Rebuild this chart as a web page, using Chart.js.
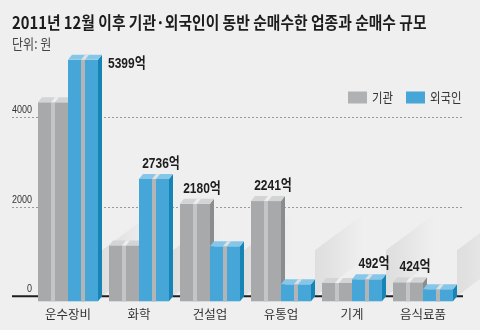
<!DOCTYPE html>
<html><head><meta charset="utf-8">
<script src="https://cdn.jsdelivr.net/npm/chart.js@4/dist/chart.umd.min.js"></script>
<style>
html,body{margin:0;padding:0;background:#efefef;width:480px;height:330px;overflow:hidden}
#wrap{position:relative;width:480px;height:330px}
canvas{position:absolute;left:0;top:0}
#title{position:absolute;left:12px;top:13px;font-family:'Noto Sans CJK KR';font-weight:bold;font-size:17px;line-height:17px;color:#1d1d1d;white-space:nowrap;transform:scaleX(0.87);transform-origin:0 0;z-index:2}
#unit{position:absolute;left:12px;top:36px;font-family:'Noto Sans CJK KR';font-size:14px;line-height:14px;color:#444;white-space:nowrap;transform:scaleX(0.86);transform-origin:0 0;z-index:2}
</style></head>
<body><div id="wrap">
<div id="title">2011년 12월 이후 기관·외국인이 동반 순매수한 업종과 순매수 규모</div>
<div id="unit">단위: 원</div>
<canvas id="c" width="480" height="330"></canvas>
</div>
<script>
const categories = ['운수장비', '화학', '건설업', '유통업', '기계', '음식료품'];
const institution = [4450, 1250, 2180, 2241, 410, 424];
const foreign = [5399, 2736, 1230, 380, 492, 270];
const seriesNames = ['기관', '외국인'];
const yTicks = [0, 2000, 4000];
const valueUnit = '억';

const KR = "'Noto Sans CJK KR'";
const NUM = "'Liberation Sans', Arial";
const palette = [
  {front:'#a8a9ab', band:'#c4c5c7', side:'#8b8c8f', top:'#d3d4d6', bandTop:'#eeeeee', legend:'#b0b1b3'},
  {front:'#47a6d8', band:'#b3b4b6', side:'#1685b6', top:'#86c6e8', bandTop:'#e0e0e0', legend:'#47a6d8'}
];

function txt(ctx, s, x, y, font, color, align, sx){
  ctx.save(); ctx.translate(x, y); ctx.scale(sx, 1);
  ctx.font = font; ctx.fillStyle = color; ctx.textAlign = align; ctx.textBaseline = 'middle';
  ctx.fillText(s, 0, 0); ctx.restore();
}
function poly(ctx, pts, color){
  ctx.beginPath(); ctx.moveTo(pts[0][0], pts[0][1]);
  for (let i = 1; i < pts.length; i++) ctx.lineTo(pts[i][0], pts[i][1]);
  ctx.closePath(); ctx.fillStyle = color; ctx.fill();
}
function drawBar(ctx, el, c){
  const w = el.width, L = el.x - w/2, R = el.x + w/2, dx = 4, dy = 5;
  const ft = el.y + dy, fb = el.base + dy;
  const bl = L + 13, bw = 4;
  ctx.fillStyle = c.front; ctx.fillRect(L, ft, w, fb - ft);
  ctx.fillStyle = c.band; ctx.fillRect(bl, ft, bw, fb - ft);
  poly(ctx, [[R, ft], [R+dx, ft-dy], [R+dx, fb-dy], [R, fb]], c.side);
  poly(ctx, [[L, ft], [L+dx, ft-dy], [R+dx, ft-dy], [R, ft]], c.top);
  poly(ctx, [[bl, ft], [bl+dx, ft-dy], [bl+bw+dx, ft-dy], [bl+bw, ft]], c.bandTop);
}

const decor = {
  id: 'decor',
  beforeDatasetsDraw(chart){
    const ctx = chart.ctx, y = chart.scales.y;
    const z = y.getPixelForValue(0);
    const m1 = chart.getDatasetMeta(1);
    ctx.save();
    // soft diagonal shadows behind each group
    m1.data.forEach(el => {
      const R = el.x + el.width/2 + 4, Ls = 48, k = 0.75, h = 46;
      const g = ctx.createLinearGradient(R, 0, R + Ls, 0);
      g.addColorStop(0, 'rgba(0,0,0,0.07)');
      g.addColorStop(1, 'rgba(0,0,0,0)');
      poly(ctx, [[R, z], [R + Ls, z - Ls*k], [R + Ls, z - Ls*k - h], [R, z - h]], g);
    });
    ctx.strokeStyle = '#9a9a9a'; ctx.lineWidth = 1; ctx.setLineDash([2, 2]);
    yTicks.forEach(v => {
      if (v === 0) return;
      const p = Math.round(y.getPixelForValue(v)) + 0.5;
      ctx.beginPath(); ctx.moveTo(12, p); ctx.lineTo(463, p); ctx.stroke();
    });
    ctx.setLineDash([]);
    ctx.strokeStyle = '#1e1e1e'; ctx.lineWidth = 2;
    ctx.beginPath(); ctx.moveTo(12, z); ctx.lineTo(463, z); ctx.stroke();
    yTicks.forEach(v => {
      txt(ctx, String(v), 32, y.getPixelForValue(v) - 7, '10px ' + NUM, '#333', 'right', 0.9);
    });
    ctx.restore();
  },
  beforeDatasetDraw(){ return false; },
  afterDatasetsDraw(chart){
    const ctx = chart.ctx, area = chart.chartArea;
    const m0 = chart.getDatasetMeta(0), m1 = chart.getDatasetMeta(1);
    ctx.save();
    categories.forEach((cat, i) => {
      drawBar(ctx, m0.data[i], palette[0]);
      drawBar(ctx, m1.data[i], palette[1]);
    });
    categories.forEach((cat, i) => {
      const vals = [institution[i], foreign[i]];
      const k = vals[1] > vals[0] ? 1 : 0;
      const el = (k ? m1 : m0).data[i];
      const s = vals[k] + valueUnit;
      const font = 'bold 15px ' + NUM + ', ' + KR;
      if (el.y - 20 < area.top + 20) {
        txt(ctx, s, el.x + el.width/2 + 10, el.y + 9, font, '#1d1d1d', 'left', 0.8);
      } else {
        txt(ctx, s, el.x + 7, el.y - 10, font, '#1d1d1d', 'center', 0.8);
      }
    });
    ctx.restore();
  },
  afterDraw(chart){
    const ctx = chart.ctx;
    ctx.save();
    const lx = [348, 406];
    seriesNames.forEach((n, i) => {
      ctx.fillStyle = palette[i].legend; ctx.fillRect(lx[i], 91.5, 19, 12);
      txt(ctx, n, lx[i] + 24, 97.5, '13px ' + KR, '#333', 'left', 0.88);
    });
    ctx.restore();
  }
};

new Chart(document.getElementById('c'), {
  type: 'bar',
  data: {
    labels: categories,
    datasets: [
      {label: seriesNames[0], data: institution, backgroundColor: palette[0].front, categoryPercentage: 0.845, barPercentage: 1},
      {label: seriesNames[1], data: foreign, backgroundColor: palette[1].front, categoryPercentage: 0.845, barPercentage: 1}
    ]
  },
  options: {
    responsive: false, animation: false, events: [],
    layout: {padding: {left: 32.5, right: 21.5, top: 28, bottom: -1.3}},
    scales: {
      x: {grid: {display: false, drawTicks: false}, border: {display: false},
          ticks: {font: {family: KR, size: 12.5}, color: '#333', padding: 10, maxRotation: 0}},
      y: {display: false, min: 0, max: 6000}
    },
    plugins: {legend: {display: false}, tooltip: {enabled: false}}
  },
  plugins: [decor]
});
</script>
</body></html>
